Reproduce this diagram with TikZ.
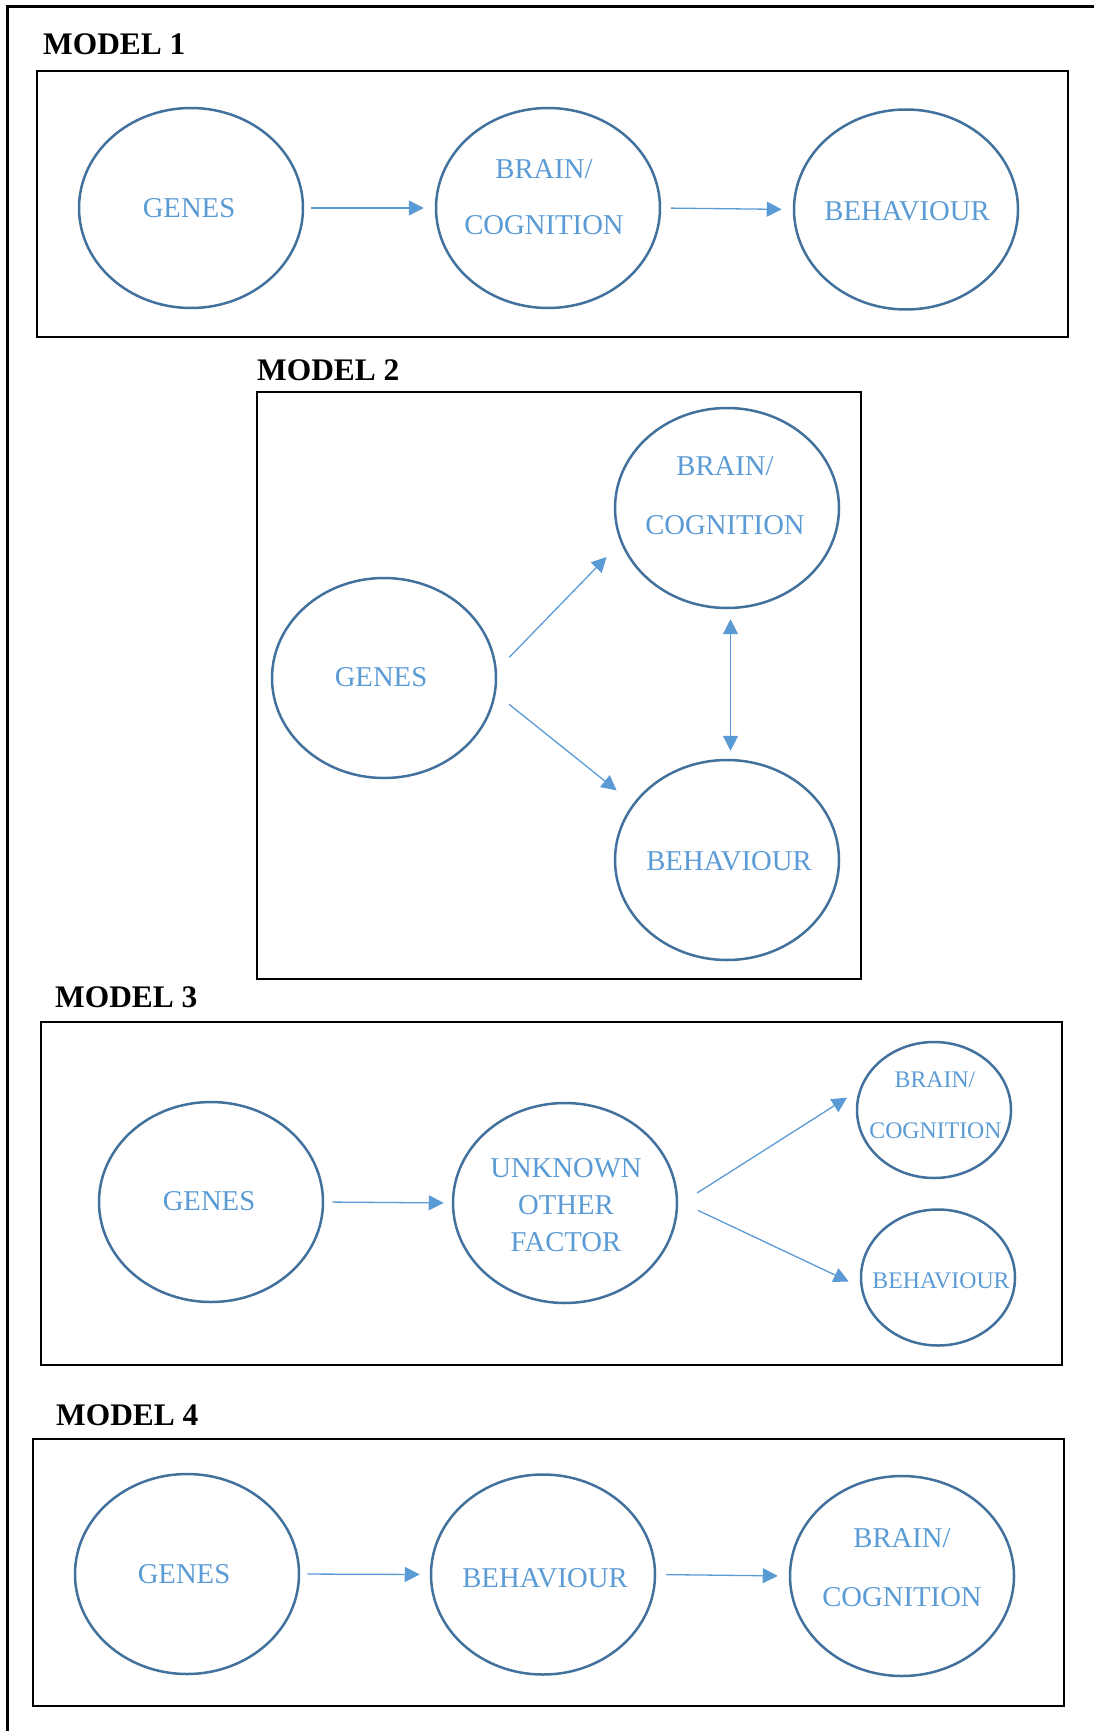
\documentclass[tikz,border=0pt]{standalone}
\usepackage{fontspec}
\setmainfont{Liberation Serif}
\usetikzlibrary{arrows.meta,shapes.geometric}
\definecolor{ellline}{HTML}{41719C}
\definecolor{txtblue}{HTML}{5B9BD5}
\begin{document}
\begin{tikzpicture}[x=1pt,y=-1pt,
  ell/.style={ellipse,draw=ellline,line width=2.5pt,minimum width=224pt,minimum height=200pt,inner sep=0pt},
  smallell/.style={ellipse,draw=ellline,line width=2.5pt,minimum width=154pt,minimum height=136pt,inner sep=0pt},
  frame/.style={draw=black,line width=2.5pt},
  lbl/.style={anchor=base west,inner sep=0pt,font=\fontsize{31.4}{36}\selectfont\bfseries},
  txt/.style={anchor=base,inner sep=0pt,text=txtblue,font=\fontsize{28.7}{34}\selectfont},
  stxt/.style={anchor=base,inner sep=0pt,text=txtblue,font=\fontsize{23.8}{28}\selectfont},
  arr/.style={draw=txtblue,line width=1.3pt,-{Triangle[length=15pt,width=15pt]}},
  darr/.style={draw=txtblue,line width=1.3pt,{Triangle[length=15pt,width=15pt]}-{Triangle[length=15pt,width=15pt]}}
]
\useasboundingbox (0,0) rectangle (1094,1731);
% outer frame (top and left)
\draw[frame] (7.5,1731) -- (7.5,6.5) -- (1094,6.5);

% ---------------- MODEL 1 ----------------
\node[lbl] (m1) at (43,55) {MODEL 1};
\node[frame,rectangle,inner sep=0pt,minimum width=1031pt,minimum height=266pt] (box1) at (552.5,204) {};
\node[ell] (g1) at (191,208) {};
\node[ell] (c1) at (548,208) {};
\node[ell] (bh1) at (906,209.5) {};
\node[txt] (g1t) at (189,217) {GENES};
\node[txt] (c1a) at (544,178.5) {BRAIN/};
\node[txt] (c1b) at (544,234.5) {COGNITION};
\node[txt] (bh1t) at (907,220.5) {BEHAVIOUR};
\draw[arr,shorten <=7pt,shorten >=11pt] (g1.east) -- (c1.west);
\draw[arr,shorten <=9.5pt,shorten >=11pt] (c1.east) -- (bh1.west);

% ---------------- MODEL 2 ----------------
\node[lbl] (m2) at (257,380) {MODEL 2};
\node[frame,rectangle,inner sep=0pt,minimum width=604pt,minimum height=587pt] (box2) at (559,685.5) {};
\node[ell] (g2) at (384,678) {};
\node[ell] (c2) at (727,508) {};
\node[ell] (bh2) at (727,860) {};
\node[txt] (c2a) at (725,475.5) {BRAIN/};
\node[txt] (c2b) at (725,534.5) {COGNITION};
\node[txt] (g2t) at (381,686.5) {GENES};
\node[txt] (bh2t) at (729,870.5) {BEHAVIOUR};
\draw[arr,shorten <=18pt,shorten >=20pt] (g2.4.6) -- (c2.198.1);
\draw[arr,shorten <=17pt,shorten >=21pt] (g2.-8.5) -- (bh2.149.5);
\draw[darr,shorten <=10pt,shorten >=8pt] (c2.-88) -- (bh2.88);

% ---------------- MODEL 3 ----------------
\node[lbl] (m3) at (55,1007) {MODEL 3};
\node[frame,rectangle,inner sep=0pt,minimum width=1021pt,minimum height=343pt] (box3) at (551.5,1193.5) {};
\node[ell] (g3) at (211,1202) {};
\node[ell] (u3) at (565,1203) {};
\node[smallell] (c3) at (934,1110) {};
\node[smallell] (bh3) at (938,1277.5) {};
\node[txt] (g3t) at (209,1210.5) {GENES};
\node[txt] (u3a) at (566,1177.5) {UNKNOWN};
\node[txt] (u3b) at (566,1214.5) {OTHER};
\node[txt] (u3c) at (566,1251.5) {FACTOR};
\node[stxt] (c3a) at (935,1087) {BRAIN/};
\node[stxt] (c3b) at (935.5,1138) {COGNITION};
\node[stxt] (bh3t) at (941,1288) {BEHAVIOUR};
\draw[arr,shorten <=8pt,shorten >=8pt] (g3.east) -- (u3.west);
\draw[arr,shorten <=22.5pt,shorten >=14.4pt] (u3.-1.5) -- (c3.165.1);
\draw[arr,shorten <=22pt,shorten >=13pt] (u3.1.5) -- (bh3.187.1);

% ---------------- MODEL 4 ----------------
\node[lbl] (m4) at (56,1425) {MODEL 4};
\node[frame,rectangle,inner sep=0pt,minimum width=1031pt,minimum height=267pt] (box4) at (548.5,1572.5) {};
\node[ell] (g4) at (187,1574) {};
\node[ell] (bh4) at (543,1574.5) {};
\node[ell] (c4) at (902,1576) {};
\node[txt] (g4t) at (184,1583.5) {GENES};
\node[txt] (bh4t) at (545,1587.5) {BEHAVIOUR};
\node[txt] (c4a) at (902,1547.5) {BRAIN/};
\node[txt] (c4b) at (902,1606.5) {COGNITION};
\draw[arr,shorten <=7pt,shorten >=10pt] (g4.east) -- (bh4.west);
\draw[arr,shorten <=10pt,shorten >=11pt] (bh4.east) -- (c4.west);
\end{tikzpicture}
\end{document}
